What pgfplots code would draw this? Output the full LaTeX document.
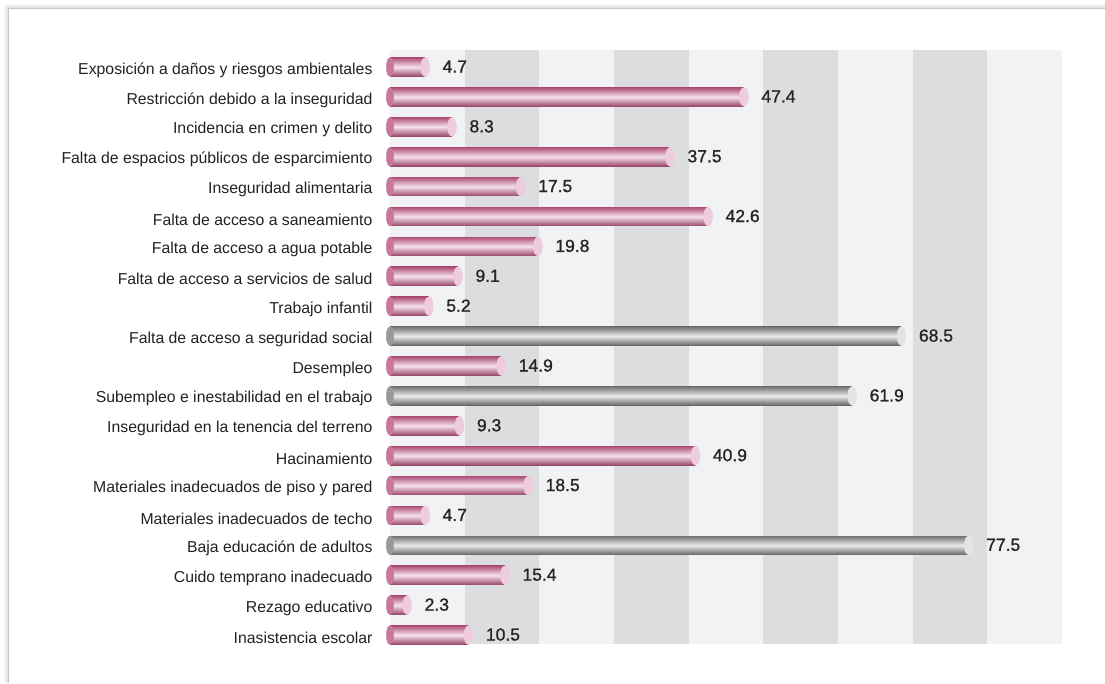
\documentclass[border=0pt]{standalone}
\usepackage{fontspec}
\setmainfont{Liberation Sans}
\newfontfamily\numfont[FakeBold=1.2]{Liberation Sans}
\usepackage{pgfplots}
\pgfplotsset{compat=1.18}

\definecolor{pinkD}{HTML}{AE5079}
\definecolor{pinkL}{HTML}{F6E1EB}
\definecolor{pinkM}{HTML}{C9789C}
\definecolor{pinkCap}{HTML}{EFCCDC}
\definecolor{grayD}{HTML}{737376}
\definecolor{grayL}{HTML}{EBEBEB}
\definecolor{grayM}{HTML}{9A9A9C}
\definecolor{grayCap}{HTML}{E4E4E6}
\definecolor{bandL}{HTML}{F1F2F4}
\definecolor{bandD}{HTML}{DCDDDF}
\definecolor{labcol}{HTML}{222222}
\definecolor{numcol}{HTML}{262626}

% #1 value, #2 row, #3 dark, #4 light, #5 cap, #6 left-end colour
\newcommand\cylbar[6]{%
\addplot[only marks, mark=*, mark size=9.35pt, color=#6, mark options={xscale=0.4}] coordinates {(0,#2)};
\addplot[xbar, bar width=18.7pt, draw=none, top color=#3, bottom color=#3!88!black, middle color=#4,
  nodes near coords,
  nodes near coords style={font=\numfont\fontsize{17.5}{19}\selectfont, text=numcol, anchor=west, xshift=14pt, yshift=0.5pt,
    /pgf/number format/.cd, fixed, fixed zerofill, precision=1, assume math mode=true}]
  coordinates {(#1,#2)};
\addplot[only marks, mark=*, mark size=9.35pt, color=#5, mark options={xscale=0.48}] coordinates {(#1,#2)};
}
\newcommand\pinkbar[2]{\cylbar{#1}{#2}{pinkD}{pinkL}{pinkCap}{pinkM}}
\newcommand\graybar[2]{\cylbar{#1}{#2}{grayD}{grayL}{grayCap}{grayM}}

\begin{document}
\begin{tikzpicture}
\path[use as bounding box] (0,0) rectangle (1105pt,683pt);
\fill[white] (0,0) rectangle (1105pt,683pt);
% card shadow and border
\draw[color=black!3, line width=1pt] (4.5pt,0) -- (4.5pt,678.5pt) -- (1105pt,678.5pt);
\draw[color=black!5, line width=1pt] (5.5pt,0) -- (5.5pt,677.5pt) -- (1105pt,677.5pt);
\draw[color=black!8, line width=1pt] (6.5pt,0) -- (6.5pt,676.5pt) -- (1105pt,676.5pt);
\draw[color=black!11, line width=1pt] (7.5pt,0) -- (7.5pt,675.5pt) -- (1105pt,675.5pt);
\draw[color=black!22, line width=1pt] (8.7pt,0) -- (8.7pt,674.3pt) -- (1105pt,674.3pt);

\begin{axis}[
  at={(390pt,39pt)}, anchor=south west,
  scale only axis, width=672pt, height=594pt,
  xmin=0, xmax=90, ymin=-0.57, ymax=19.3, y dir=reverse,
  axis line style={draw=none}, major tick length=0pt,
  xtick=\empty,
  ytick={0,...,19},
  yticklabels={
    Exposición a daños y riesgos ambientales,
    Restricción debido a la inseguridad,
    Incidencia en crimen y delito,
    Falta de espacios públicos de esparcimiento,
    Inseguridad alimentaria,
    Falta de acceso a saneamiento,
    Falta de acceso a agua potable,
    Falta de acceso a servicios de salud,
    Trabajo infantil,
    Falta de acceso a seguridad social,
    Desempleo,
    Subempleo e inestabilidad en el trabajo,
    Inseguridad en la tenencia del terreno,
    Hacinamiento,
    Materiales inadecuados de piso y pared,
    Materiales inadecuados de techo,
    Baja educación de adultos,
    Cuido temprano inadecuado,
    Rezago educativo,
    Inasistencia escolar},
  yticklabel style={font=\fontsize{15.8}{18}\selectfont, text=labcol, xshift=-14pt, yshift=-3pt},
  clip=false,
]
% background bands
\fill[bandL] (axis cs:0,-0.57) rectangle (axis cs:90,19.3);
\fill[bandD] (axis cs:10,-0.57) rectangle (axis cs:20,19.3);
\fill[bandD] (axis cs:30,-0.57) rectangle (axis cs:40,19.3);
\fill[bandD] (axis cs:50,-0.57) rectangle (axis cs:60,19.3);
\fill[bandD] (axis cs:70,-0.57) rectangle (axis cs:80,19.3);

\pinkbar{4.7}{0}
\pinkbar{47.4}{1}
\pinkbar{8.3}{2}
\pinkbar{37.5}{3}
\pinkbar{17.5}{4}
\pinkbar{42.6}{5}
\pinkbar{19.8}{6}
\pinkbar{9.1}{7}
\pinkbar{5.2}{8}
\graybar{68.5}{9}
\pinkbar{14.9}{10}
\graybar{61.9}{11}
\pinkbar{9.3}{12}
\pinkbar{40.9}{13}
\pinkbar{18.5}{14}
\pinkbar{4.7}{15}
\graybar{77.5}{16}
\pinkbar{15.4}{17}
\pinkbar{2.3}{18}
\pinkbar{10.5}{19}
\end{axis}
\end{tikzpicture}
\end{document}
